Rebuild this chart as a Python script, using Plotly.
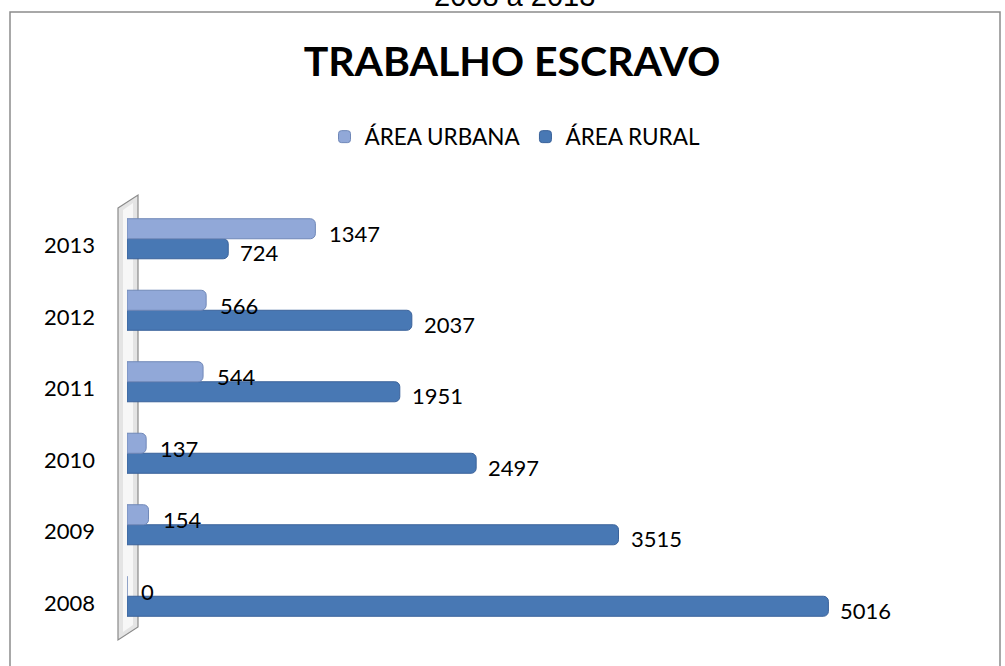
import plotly.graph_objects as go

years = ["2008", "2009", "2010", "2011", "2012", "2013"]
urbana = [0, 154, 137, 544, 566, 1347]
rural = [5016, 3515, 2497, 1951, 2037, 724]

series_names = ["ÁREA URBANA", "ÁREA RURAL"]
colors = {"urbana": "#91A8D8", "rural": "#4878B4"}
edge = {"urbana": "#7088B8", "rural": "#3A629A"}

W, H = 1005, 666
L, R, T, B = 127, 39, 203, 34
PW, PH = W - L - R, H - T - B


def px(x):
    return (x - L) / PW


def py(y):
    return (H - B - y) / PH


fig = go.Figure()
fig.add_trace(go.Bar(
    y=years, x=rural, orientation="h", name=series_names[1],
    marker=dict(color=colors["rural"], line=dict(color=edge["rural"], width=1)),
    legendrank=2,
))
fig.add_trace(go.Bar(
    y=years, x=urbana, orientation="h", name=series_names[0],
    marker=dict(color=colors["urbana"], line=dict(color=edge["urbana"], width=1)),
    legendrank=1,
))

lab_font = dict(family="Lato, Carlito, Calibri, sans-serif", size=22, color="#000")
annots = [dict(x=px(514), y=py(-4), xref="paper", yref="paper", text="2008 a 2013",
               showarrow=False, xanchor="center", yanchor="middle",
               font=dict(family="Liberation Sans, Arial, sans-serif", size=29, color="#000"))]
for i, v in enumerate(urbana):
    annots.append(dict(x=v, y=i, xref="x", yref="y", text=str(v), showarrow=False,
                       xanchor="left", yanchor="middle", xshift=12, yshift=5, font=lab_font))
for i, v in enumerate(rural):
    annots.append(dict(x=v, y=i, xref="x", yref="y", text=str(v), showarrow=False,
                       xanchor="left", yanchor="middle", xshift=10, yshift=-14, font=lab_font))

shapes = [
    # chart border
    dict(type="rect", xref="paper", yref="paper", x0=px(10), x1=px(1000), y0=py(700), y1=py(12),
         line=dict(color="#8C8C8C", width=1.5), fillcolor="rgba(0,0,0,0)", layer="below"),
    # 3D wall
    dict(type="path", xref="paper", yref="paper", layer="below",
         path=f"M {px(118)},{py(208)} L {px(138)},{py(195)} L {px(138)},{py(627)} L {px(118)},{py(640)} Z",
         fillcolor="#E4E4E4", line=dict(color="#8A8A8A", width=1.2)),
    dict(type="path", xref="paper", yref="paper", layer="below",
         path=f"M {px(123)},{py(210)} L {px(133)},{py(203)} L {px(133)},{py(625)} L {px(123)},{py(632)} Z",
         fillcolor="#F7F7F7", line=dict(width=0)),
]

fig.update_layout(
    width=W, height=H,
    margin=dict(l=L, r=R, t=T, b=B, autoexpand=False),
    paper_bgcolor="white", plot_bgcolor="white",
    barmode="group", bargap=0.44, bargroupgap=0, barcornerradius=5,
    title=dict(text="<b>TRABALHO ESCRAVO</b>", xref="container", yref="container",
               x=512 / W, y=1 - 62 / H, xanchor="center", yanchor="middle",
               font=dict(family="Lato, Carlito, Calibri, sans-serif", size=41, color="#000")),
    legend=dict(orientation="h", xref="container", yref="container",
                x=515 / W, y=1 - 137 / H, xanchor="center", yanchor="middle",
                font=dict(family="Lato, Carlito, Calibri, sans-serif", size=22.5, color="#000"),
                traceorder="normal", itemwidth=30),
    xaxis=dict(range=[0, 6000], visible=False, automargin=False),
    yaxis=dict(type="category", categoryorder="array", categoryarray=years,
               range=[-0.5, 5.5], showgrid=False, showline=False, zeroline=False,
               automargin=False,
               ticks="", tickfont=lab_font, ticklabelshift=7, ticklabelstandoff=31),
    annotations=annots,
    shapes=shapes,
    showlegend=True,
)

fig.write_html(
    "out.html",
    config={"displayModeBar": False},
    post_script="document.body.style.margin='0';document.body.style.overflow='hidden';",
)
